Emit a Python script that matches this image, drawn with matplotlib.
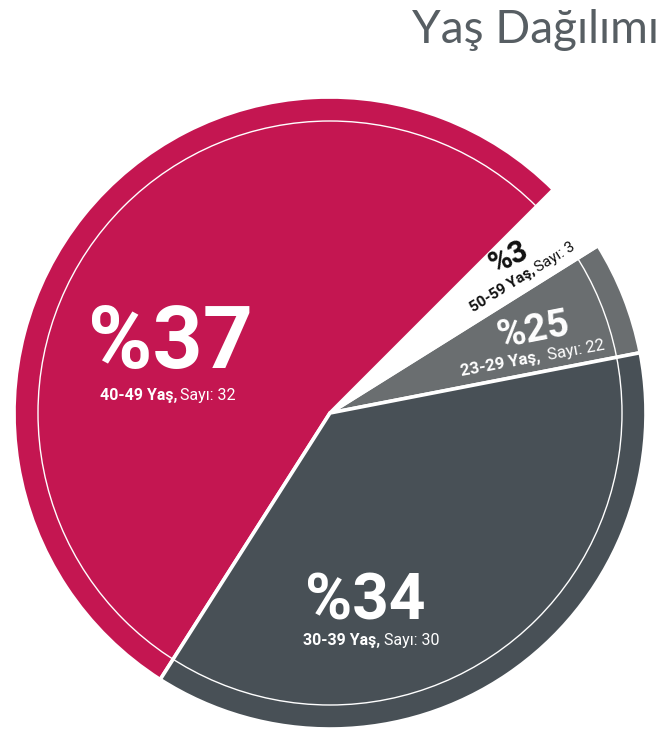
import matplotlib
matplotlib.use("Agg")
import numpy as np
import matplotlib.pyplot as plt
from matplotlib.patches import Wedge, Circle
from matplotlib import font_manager

# =========================
# Data
# =========================
age_groups = ["23-29 Yaş,", "50-59 Yaş,", "40-49 Yaş,", "30-39 Yaş,"]
counts = [22, 3, 32, 30]
percents = [25, 3, 37, 34]
# the slices in the original are not drawn proportional, so keep the drawn sweep (deg)
sweep_deg = [21.0, 13.0, 192.5, 133.5]
start_deg = 11.0
slice_colors = ["#6a6e70", "#ffffff", "#c41651", "#485056"]
text_colors = ["white", "#111111", "white", "white"]

title = "Yaş Dağılımı"

# =========================
# Layout (pixel space, y down)
# =========================
W, H = 667, 730
cx, cy = 330, 413
r_outer = 316
r_ring = 292

# big number: (x, y baseline, rotation, size), sub label split point: (x, y, rotation, size)
big_pos = [(535, 341, 11, 28), (513, 265, 26, 22), (170, 368, 0, 63), (365, 619, 0, 46)]
sub_pos = [(545, 361, 10.5, 12), (537, 273, 32, 11), (179, 400, 0, 11.5), (382, 645, 0, 11.5)]
sub_gap = [8, 3, 3, 3]   # px between bold and regular part

names = {f.name for f in font_manager.fontManager.ttflist}
num_font = "Liberation Sans Narrow" if "Liberation Sans Narrow" in names else "Roboto"

fig = plt.figure(figsize=(W / 100, H / 100), dpi=100)
ax = fig.add_axes([0, 0, 1, 1])
ax.set_xlim(0, W)
ax.set_ylim(H, 0)
ax.axis("off")

# =========================
# Slices (angles counter-clockwise on screen; y axis is flipped)
# =========================
a = start_deg
for sweep, col in zip(sweep_deg, slice_colors):
    a1, a2 = a, a + sweep
    w = Wedge((cx, cy), r_outer, -a2, -a1, facecolor=col, edgecolor="white", linewidth=2.6)
    ax.add_patch(w)
    a = a2

ax.add_patch(Circle((cx, cy), r_ring, fill=False, edgecolor="white", linewidth=1.0))

# =========================
# Labels
# =========================
for i in range(len(counts)):
    bx, by, brot, bsize = big_pos[i]
    ax.text(bx, by, "%" + str(percents[i]), ha="center", va="baseline",
            rotation=brot, rotation_mode="anchor", fontsize=bsize,
            fontweight="bold", family=num_font, color=text_colors[i])

    sx, sy, srot, ssize = sub_pos[i]
    g = sub_gap[i] / 2
    dx, dy = g * np.cos(np.radians(srot)), -g * np.sin(np.radians(srot))
    ax.text(sx - dx, sy - dy, age_groups[i], ha="right", va="baseline", rotation=srot,
            rotation_mode="anchor", fontsize=ssize, fontweight="bold",
            family=num_font, color=text_colors[i])
    ax.text(sx + dx, sy + dy, "Sayı: " + str(counts[i]), ha="left", va="baseline",
            rotation=srot, rotation_mode="anchor", fontsize=ssize,
            family=num_font, color=text_colors[i])

ax.text(659, 43, title, ha="right", va="baseline", fontsize=33,
        family="Lato", color="#575e63")

plt.savefig("out.png", dpi=100)
